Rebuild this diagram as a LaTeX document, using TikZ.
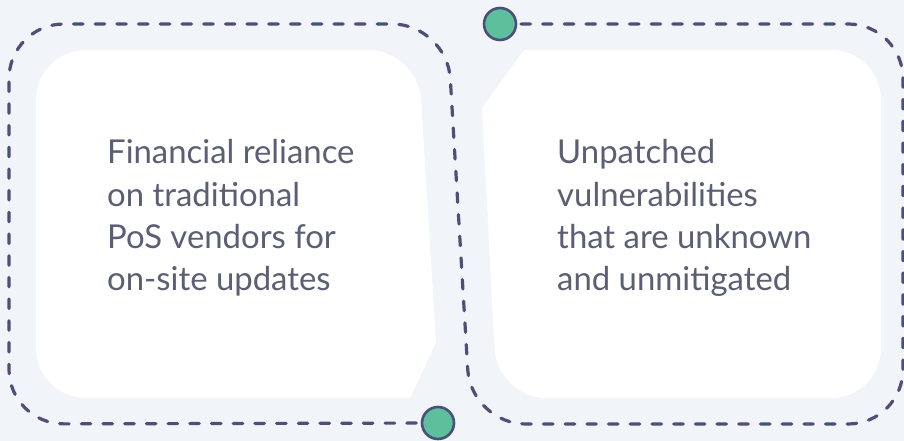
\documentclass[tikz,border=0pt]{standalone}
\usepackage{fontspec}
\setmainfont{Lato}
\definecolor{paper}{HTML}{F1F4F9}
\definecolor{ink}{HTML}{4A5078}
\definecolor{mint}{HTML}{5DBF9C}
\definecolor{prose}{HTML}{5A5F73}
\begin{document}
\begin{tikzpicture}[x=1bp, y=-1bp, line join=round, line cap=round,
	dot/.style={circle, draw=ink, fill=mint, line width=2.6bp, minimum size=32bp, inner sep=0pt},
	blurb/.style={font=\fontsize{33}{42.5}\selectfont, text=prose, align=left, anchor=base west, inner sep=0pt}]
	\fill[paper] (0,0) rectangle (904,441);
	\useasboundingbox (0,0) rectangle (904,441);
	\path
	(438,423) coordinate (S)
	(9,424) coordinate (BL)
	(9,24) coordinate (TL)
	(447,24) coordinate (M1)
	(471,424) coordinate (M2)
	(903,424) coordinate (BR)
	(903,24) coordinate (TR)
	(500,24) coordinate (E)
	;
	% the two cards, each with one corner cut off
	\fill[white, rounded corners=50] (436,343)--(418,50)--(36,50)--(36,398)--(410,398);
	\fill[white, rounded corners=50] (482,108)--(497,398)--(881,398)--(881,50)--(524,50);
	% dashed track round both cards
	\draw[ink, line width=3.2bp, dash pattern=on 9.5bp off 12.2bp, rounded corners=55]
	(S)--(BL)--(TL)--(M1)--(M2)--(BR)--(TR)--(E);
	\foreach \p in {S,E}
	\node[dot] (dot\p) at (\p) {};
	% last baseline given, three lines below the first
	\node[blurb] (reliance) at (107,291) {Financial reliance\\on traditional\\PoS vendors for\\on-site updates};
	\node[blurb] (unpatched) at (557,291) {Unpatched\\vulnerabilities\\that are unknown\\and unmitigated};
\end{tikzpicture}
\end{document}
